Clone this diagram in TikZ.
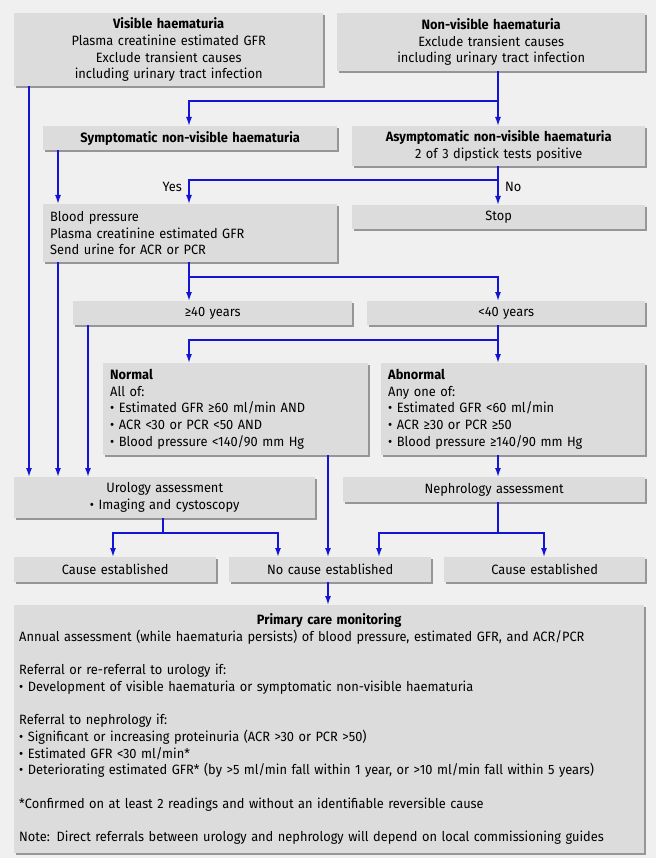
\documentclass[tikz,border=0pt]{standalone}
\usepackage{fontspec}
\setmainfont{Fira Sans}[FakeStretch=0.95]
\usetikzlibrary{arrows.meta,shadows}

\definecolor{pagebg}{RGB}{240,240,240}
\definecolor{boxfill}{RGB}{220,220,220}
\definecolor{boxshade}{RGB}{150,150,150}
\definecolor{flowblue}{RGB}{20,20,215}

\tikzset{
  box/.style={anchor=north west,fill=boxfill,inner ysep=0pt,inner xsep=7pt,
    font=\fontsize{13.5}{16.7}\selectfont,
    drop shadow={shadow xshift=1.5pt,shadow yshift=-1.5pt,fill=boxshade,opacity=1}},
  lbl/.style={font=\fontsize{13.5}{16.7}\selectfont,inner sep=0pt},
  link/.style={draw=flowblue,line width=1.5pt},
  flow/.style={link,-{Latex[length=9pt,width=6pt]}},
}

\begin{document}
\begin{tikzpicture}[x=1pt,y=-1pt]
\fill [pagebg] (0,0) rectangle (656,858);
\useasboundingbox (0,0) rectangle (656,858);
\node [box,text width=295pt,minimum height=73pt,align=center] (vis) at (14,13)
  {\textbf{Visible haematuria}\\Plasma creatinine estimated GFR\\Exclude transient causes\\including urinary tract infection};
\node [box,text width=294pt,minimum height=58pt,align=center] (nonvis) at (337,13)
  {\textbf{Non-visible haematuria}\\Exclude transient causes\\including urinary tract infection};
\node [box,text width=280pt,minimum height=24pt,align=center] (sympt) at (43,126)
  {\textbf{Symptomatic non-visible haematuria}};
\node [box,text width=279pt,minimum height=40pt,align=center] (asympt) at (352,126)
  {\textbf{Asymptomatic non-visible haematuria}\\2 of 3 dipstick tests positive};
\node [box,text width=280pt,minimum height=58pt,align=left] (bp) at (43,204)
  {Blood pressure\\Plasma creatinine estimated GFR\\Send urine for ACR or PCR};
\node [box,text width=279pt,minimum height=24pt,align=center] (stop) at (352,205) {Stop};
\node [box,text width=265pt,minimum height=24pt,align=center] (over40) at (73,301) {≥40 years};
\node [box,text width=264pt,minimum height=24pt,align=center] (under40) at (367,301) {<40 years};
\node [box,text width=251pt,minimum height=92pt,align=left] (normal) at (103,363)
  {\textbf{Normal}\\All of:\\• Estimated GFR ≥60 ml/min AND\\• ACR <30 or PCR <50 AND\\• Blood pressure <140/90 mm Hg};
\node [box,text width=250pt,minimum height=92pt,align=left] (abnormal) at (381,363)
  {\textbf{Abnormal}\\Any one of:\\• Estimated GFR <60 ml/min\\• ACR ≥30 or PCR ≥50\\• Blood pressure ≥140/90 mm Hg};
\node [box,text width=287pt,minimum height=41pt,align=center] (uro) at (14,477)
  {Urology assessment\\• Imaging and cystoscopy};
\node [box,text width=288pt,minimum height=25pt,align=center] (nephro) at (343,477) {Nephrology assessment};
\node [box,text width=188pt,minimum height=25pt,align=center] (cause1) at (14,557) {Cause established};
\node [box,text width=188pt,minimum height=25pt,align=center] (nocause) at (229,557) {No cause established};
\node [box,text width=187pt,minimum height=25pt,align=center] (cause2) at (444,557) {Cause established};
\node [box,inner xsep=5pt,text width=620pt,minimum height=248pt,align=left] (primary) at (14,605)
  {\makebox[620pt][c]{\textbf{Primary care monitoring}}\\
   Annual assessment (while haematuria persists) of blood pressure, estimated GFR, and ACR/PCR\\[16.7pt]
   Referral or re-referral to urology if:\\
   • Development of visible haematuria or symptomatic non-visible haematuria\\[16.7pt]
   Referral to nephrology if:\\
   • Significant or increasing proteinuria (ACR >30 or PCR >50)\\
   • Estimated GFR <30 ml/min*\\
   • Deteriorating estimated GFR* (by >5 ml/min fall within 1 year, or >10 ml/min fall within 5 years)\\[16.7pt]
   *Confirmed on at least 2 readings and without an identifiable reversible cause\\[16.7pt]
   Note: Direct referrals between urology and nephrology will depend on local commissioning guides};
\node [lbl,anchor=east] (yes) at (182,187) {Yes};
\node [lbl,anchor=west] (no) at (505,187) {No};
% junctions
\coordinate (j1) at (498,101);
\coordinate (j2) at (498,180);
\coordinate (j3) at (189,277);
\coordinate (j4) at (498,340);
\coordinate (j5) at (163,533);
\coordinate (j6) at (498,533);
% left hand columns to urology
\draw [flow] (vis.south -| 29,0) -- (uro.north -| 29,0);
\draw [flow] (sympt.south -| 58,0) -- (bp.north -| 58,0);
\draw [flow] (bp.south -| 58,0) -- (uro.north -| 58,0);
\draw [flow] (over40.south -| 88,0) -- (uro.north -| 88,0);
% non-visible branch
\draw [flow] (nonvis.south -| 498,0) -- (asympt.north -| 498,0);
\draw [flow] (j1) -| (sympt.north -| 189,0);
\draw [flow] (asympt.south -| 498,0) -- (stop.north -| 498,0);
\draw [flow] (j2) -| (bp.north -| 189,0);
\draw [flow] (bp.south -| 189,0) -- (over40.north -| 189,0);
\draw [flow] (j3) -| (under40.north -| 498,0);
\draw [flow] (under40.south -| 498,0) -- (abnormal.north -| 498,0);
\draw [flow] (j4) -| (normal.north -| 189,0);
\draw [flow] (abnormal.south -| 498,0) -- (nephro.north -| 498,0);
\draw [flow] (normal.south -| 328,0) -- (nocause.north -| 328,0);
% outcomes
\draw [link] (uro.south -| j5) -- (j5);
\draw [flow] (j5) -| (cause1.north -| 113,0);
\draw [flow] (j5) -| (nocause.north -| 278,0);
\draw [link] (nephro.south -| j6) -- (j6);
\draw [flow] (j6) -| (nocause.north -| 379,0);
\draw [flow] (j6) -| (cause2.north -| 544,0);
\draw [flow] (nocause.south -| 328,0) -- (primary.north -| 328,0);
\end{tikzpicture}
\end{document}
